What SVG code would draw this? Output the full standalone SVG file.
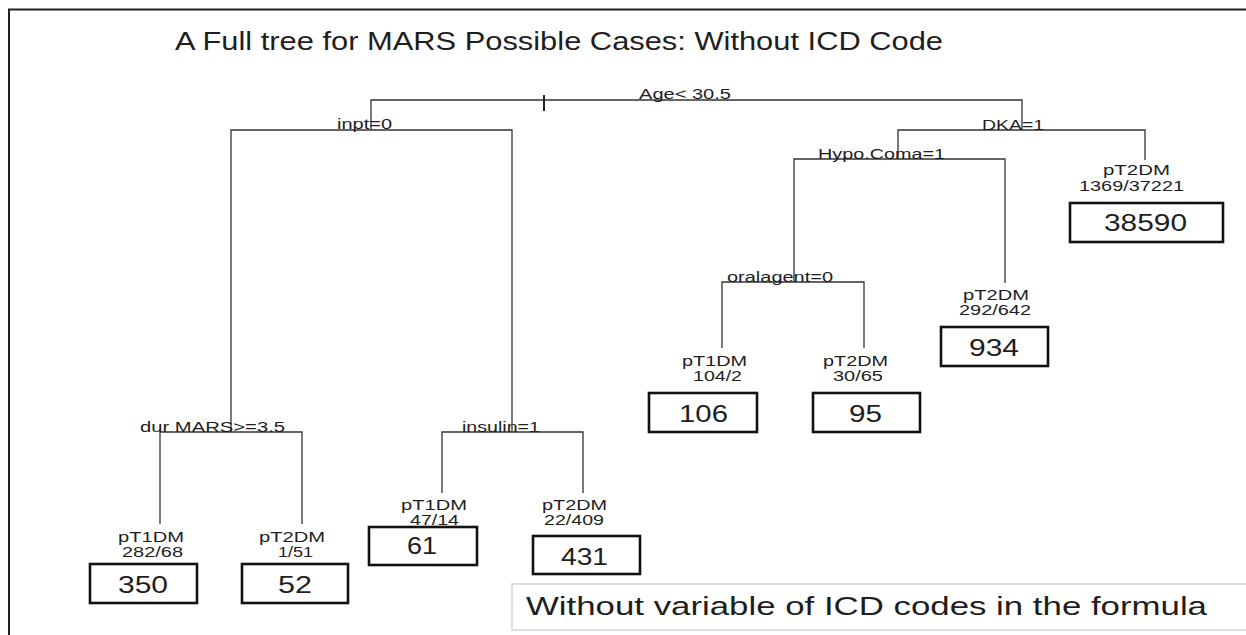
<svg xmlns="http://www.w3.org/2000/svg" width="1246" height="635" viewBox="0 0 1246 635">
  <style>
    text { font-family: "Liberation Sans", Arial, sans-serif; fill: #1e1e1e; }
    .title { font-size: 25px; }
    .split { font-size: 15px; }
    .lab { font-size: 14px; }
    .num { font-size: 24px; }
    .legend { font-size: 25px; }
    .box { fill: #ffffff; stroke: #111111; stroke-width: 2.6; }
    .edge { fill: none; stroke: #333333; stroke-width: 1.3; }
  </style>
  <rect x="0" y="0" width="1246" height="635" fill="#ffffff"/>
  <path d="M9,635 V9.5 H1246" fill="none" stroke="#222222" stroke-width="2"/>
  <text class="title" x="175" y="50" textLength="768" lengthAdjust="spacingAndGlyphs">A Full tree for MARS Possible Cases: Without ICD Code</text>

  <g id="connectors">
    <path class="edge" d="M371,130 V100 H1022 V130"/>
    <path d="M544,95 V111" stroke="#222222" stroke-width="2" fill="none"/>
    <path class="edge" d="M231,432 V130 H512 V432"/>
    <path class="edge" d="M898,159 V130 H1145 V160"/>
    <path class="edge" d="M794,282 V159 H1005 V283"/>
    <path class="edge" d="M722,348 V282 H864 V348"/>
    <path class="edge" d="M160,524 V432 H302 V524"/>
    <path class="edge" d="M442,493 V432 H583 V493"/>
  </g>

  <g id="split-root"><text class="split" x="639" y="99" textLength="92" lengthAdjust="spacingAndGlyphs">Age&lt; 30.5</text></g>
  <g id="split-inpt"><text class="split" x="337" y="129" textLength="55" lengthAdjust="spacingAndGlyphs">inpt=0</text></g>
  <g id="split-dka"><text class="split" x="982" y="129.5" textLength="62" lengthAdjust="spacingAndGlyphs">DKA=1</text></g>
  <g id="split-hypo"><text class="split" x="818" y="159" textLength="127" lengthAdjust="spacingAndGlyphs">Hypo.Coma=1</text></g>
  <g id="split-oral"><text class="split" x="727" y="281.5" textLength="106" lengthAdjust="spacingAndGlyphs">oralagent=0</text></g>
  <g id="split-dur"><text class="split" x="140" y="431.5" textLength="145" lengthAdjust="spacingAndGlyphs">dur MARS&gt;=3.5</text></g>
  <g id="split-insulin"><text class="split" x="462" y="431.5" textLength="78" lengthAdjust="spacingAndGlyphs">insulin=1</text></g>

  <g id="leaf-38590">
    <text class="lab" x="1103" y="175" textLength="67" lengthAdjust="spacingAndGlyphs">pT2DM</text>
    <text class="lab" x="1079" y="191" textLength="105" lengthAdjust="spacingAndGlyphs">1369/37221</text>
    <rect class="box" x="1070" y="203" width="153" height="39"/>
    <text class="num" x="1104" y="230.5" textLength="83" lengthAdjust="spacingAndGlyphs">38590</text>
  </g>
  <g id="leaf-934">
    <text class="lab" x="963" y="300" textLength="66" lengthAdjust="spacingAndGlyphs">pT2DM</text>
    <text class="lab" x="959" y="315" textLength="72" lengthAdjust="spacingAndGlyphs">292/642</text>
    <rect class="box" x="941" y="327" width="107" height="39"/>
    <text class="num" x="969" y="356" textLength="50" lengthAdjust="spacingAndGlyphs">934</text>
  </g>
  <g id="leaf-106">
    <text class="lab" x="682" y="366" textLength="65" lengthAdjust="spacingAndGlyphs">pT1DM</text>
    <text class="lab" x="693" y="380.5" textLength="49" lengthAdjust="spacingAndGlyphs">104/2</text>
    <rect class="box" x="649" y="393" width="108" height="39"/>
    <text class="num" x="679" y="421.5" textLength="49" lengthAdjust="spacingAndGlyphs">106</text>
  </g>
  <g id="leaf-95">
    <text class="lab" x="823" y="366" textLength="65" lengthAdjust="spacingAndGlyphs">pT2DM</text>
    <text class="lab" x="833" y="380.5" textLength="50" lengthAdjust="spacingAndGlyphs">30/65</text>
    <rect class="box" x="813" y="393" width="107" height="39"/>
    <text class="num" x="849" y="421.5" textLength="33" lengthAdjust="spacingAndGlyphs">95</text>
  </g>
  <g id="leaf-350">
    <text class="lab" x="118" y="541.5" textLength="66" lengthAdjust="spacingAndGlyphs">pT1DM</text>
    <text class="lab" x="122" y="556.5" textLength="61" lengthAdjust="spacingAndGlyphs">282/68</text>
    <rect class="box" x="90" y="564" width="107" height="39"/>
    <text class="num" x="118" y="593" textLength="50" lengthAdjust="spacingAndGlyphs">350</text>
  </g>
  <g id="leaf-52">
    <text class="lab" x="259" y="541.5" textLength="66" lengthAdjust="spacingAndGlyphs">pT2DM</text>
    <text class="lab" x="278" y="556.5" textLength="35" lengthAdjust="spacingAndGlyphs">1/51</text>
    <rect class="box" x="242" y="564" width="106" height="39"/>
    <text class="num" x="278" y="593" textLength="34" lengthAdjust="spacingAndGlyphs">52</text>
  </g>
  <g id="leaf-61">
    <text class="lab" x="401" y="510" textLength="66" lengthAdjust="spacingAndGlyphs">pT1DM</text>
    <text class="lab" x="410" y="525" textLength="49" lengthAdjust="spacingAndGlyphs">47/14</text>
    <rect class="box" x="369" y="527" width="108" height="38"/>
    <text class="num" x="407" y="554" textLength="30" lengthAdjust="spacingAndGlyphs">61</text>
  </g>
  <g id="leaf-431">
    <text class="lab" x="542" y="510" textLength="65" lengthAdjust="spacingAndGlyphs">pT2DM</text>
    <text class="lab" x="544" y="525" textLength="60" lengthAdjust="spacingAndGlyphs">22/409</text>
    <rect class="box" x="533" y="536" width="107" height="38"/>
    <text class="num" x="561" y="565" textLength="47" lengthAdjust="spacingAndGlyphs">431</text>
  </g>

  <g id="legend">
    <rect x="512" y="584" width="740" height="46" fill="#ffffff" stroke="#d4d4d4" stroke-width="1.5"/>
    <text class="legend" x="526" y="615" textLength="681" lengthAdjust="spacingAndGlyphs">Without variable of ICD codes in the formula</text>
  </g>
</svg>
